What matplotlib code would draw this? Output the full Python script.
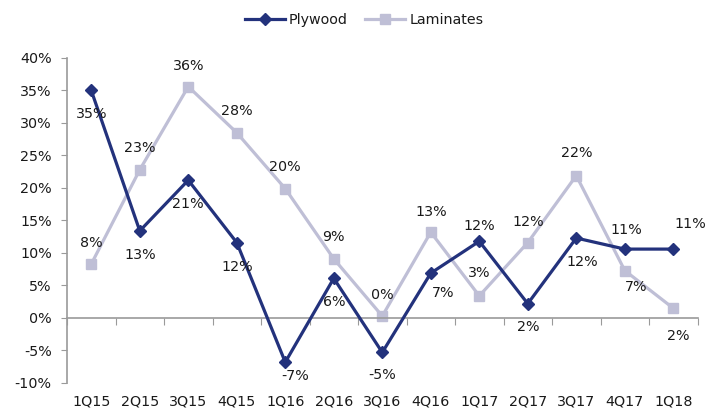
import matplotlib
matplotlib.use("Agg")
import matplotlib.pyplot as plt
import matplotlib.ticker as mticker
import numpy as np

# Datos
trimestres = ["1Q15", "2Q15", "3Q15", "4Q15", "1Q16", "2Q16", "3Q16",
              "4Q16", "1Q17", "2Q17", "3Q17", "4Q17", "1Q18"]
plywood = [35.0, 13.4, 21.2, 11.6, -6.8, 6.1, -5.3, 6.9, 11.8, 2.2, 12.3, 10.6, 10.6]
laminates = [8.3, 22.8, 35.6, 28.5, 19.9, 9.1, 0.3, 13.2, 3.4, 11.6, 21.9, 7.3, 1.5]

# Posicion de las etiquetas (desplazamiento en pixeles)
off_ply = [(0, -24), (0, -24), (0, -24), (0, -24), (10, -14), (0, -24), (0, -23),
           (12, -20), (0, 15), (0, -23), (6, -24), (2, 19), (17, 25)]
off_lam = [(0, 21), (0, 22), (0, 21), (0, 22), (0, 22), (0, 22), (0, 21),
           (0, 20), (0, 23), (0, 21), (0, 23), (11, -16), (5, -28)]

AZUL = "#23327c"
LILA = "#bfbfd6"
GRIS = "#9a9a9a"
TXT = "#1a1a1a"
FS = 10.3

plt.rcParams["font.family"] = ["DejaVu Sans"]

fig = plt.figure(figsize=(7.07, 4.09), dpi=100)
ax = fig.add_axes([0.0948, 0.0636, 0.8918, 0.7946])
x = np.arange(len(trimestres))

ax.plot(x, plywood, color=AZUL, lw=2.3, marker="D", ms=6, label="Plywood", zorder=3)
ax.plot(x, laminates, color=LILA, lw=2.3, marker="s", ms=6.5, label="Laminates", zorder=2)

for i, v in enumerate(plywood):
    ax.annotate(f"{round(v):.0f}%", (x[i], v), xytext=off_ply[i],
                textcoords="offset pixels", ha="center", va="center",
                fontsize=FS, color=TXT)
for i, v in enumerate(laminates):
    ax.annotate(f"{round(v):.0f}%", (x[i], v), xytext=off_lam[i],
                textcoords="offset pixels", ha="center", va="center",
                fontsize=FS, color=TXT)

ax.set_xlim(-0.5, len(trimestres) - 0.5)
ax.set_ylim(-10, 40)
ax.yaxis.set_major_locator(mticker.MultipleLocator(5))
ax.yaxis.set_major_formatter(mticker.FuncFormatter(lambda v, _: f"{v:.0f}%"))
ax.tick_params(axis="y", length=4, color=GRIS, labelsize=FS, labelcolor=TXT, pad=7)

# eje x en 0 con marcas entre categorias
ax.spines["bottom"].set_position(("data", 0))
ax.set_xticks(np.arange(len(trimestres) + 1) - 0.5)
ax.set_xticklabels([])
ax.tick_params(axis="x", length=5, color=GRIS)
for s in ["top", "right"]:
    ax.spines[s].set_visible(False)
for s in ["left", "bottom"]:
    ax.spines[s].set_color(GRIS)
    ax.spines[s].set_linewidth(1.2)

# etiquetas de categorias abajo
sec = ax.secondary_xaxis(0)
sec.set_xticks(x)
sec.set_xticklabels(trimestres)
sec.tick_params(length=0, labelsize=FS, labelcolor=TXT, pad=8)
sec.spines["bottom"].set_visible(False)

fig.legend(loc="upper center", bbox_to_anchor=(0.515, 1.0), ncol=2, frameon=False,
           fontsize=FS, handlelength=2.8, columnspacing=1.2, handletextpad=0.3,
           labelcolor=TXT)

fig.savefig("out.png", dpi=100)
